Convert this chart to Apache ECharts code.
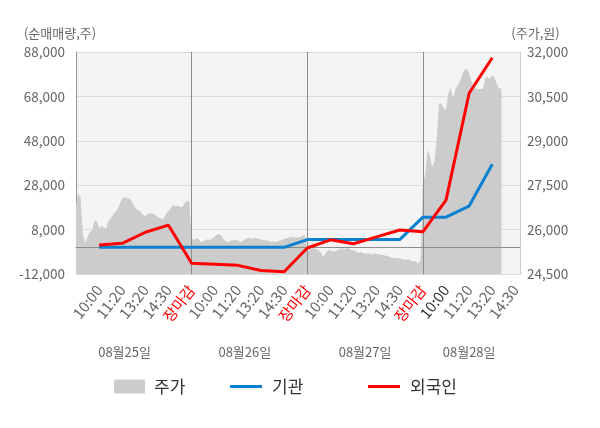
<!DOCTYPE html>
<html>
<head>
<meta charset="utf-8">
<script src="https://cdn.jsdelivr.net/npm/echarts@6/dist/echarts.min.js"></script>
<style>
    html, body { margin: 0; padding: 0; background: #fff; }
    #chart { width: 600px; height: 428px; }
</style>
</head>
<body>
<div id="chart"></div>
<script>
// x축 눈금 (10분 간격 슬롯 10개마다 하나)
var tickLabels = ['10:00', '11:20', '13:20', '14:30', '장마감',
    '10:00', '11:20', '13:20', '14:30', '장마감',
    '10:00', '11:20', '13:20', '14:30', '장마감',
    '10:00', '11:20', '13:20', '14:30'];
var dateLabels = ['08월25일', '08월26일', '08월27일', '08월28일'];

// 주가 (원) - 일중
var priceDay1 = [26830, 27230, 27070, 25820, 25540, 25760, 25930, 25990, 26320, 26270,
    26040, 26130, 26060, 26040, 26270, 26380, 26490, 26600, 26700, 26890,
    27060, 27090, 27060, 27060, 26970, 26810, 26700, 26660, 26600, 26490,
    26440, 26540, 26540, 26550, 26490, 26450, 26400, 26360, 26380, 26550,
    26630, 26720, 26830, 26790, 26810, 26760, 26760, 26890, 26970, 26970];
var priceDay2 = [25720, 25650, 25710, 25680, 25570, 25610, 25650, 25670, 25640, 25710,
    25760, 25840, 25840, 25780, 25650, 25580, 25590, 25630, 25640, 25650,
    25640, 25590, 25590, 25670, 25710, 25730, 25680, 25730, 25690, 25710,
    25660, 25650, 25630, 25640, 25590, 25610, 25580, 25590, 25630, 25650,
    25690, 25710, 25730, 25760, 25740, 25730, 25730, 25760, 25790, 25820];
var priceDay3 = [25200, 25340, 25370, 25370, 25340, 25310, 25200, 25080, 25200, 25290,
    25300, 25250, 25280, 25300, 25340, 25390, 25340, 25370, 25370, 25310,
    25300, 25280, 25210, 25250, 25220, 25180, 25190, 25190, 25150, 25190,
    25180, 25170, 25140, 25140, 25120, 25100, 25070, 25050, 25030, 25030,
    25030, 25010, 24980, 24980, 25000, 24950, 24930, 24920, 24840, 24970];
var priceDay4 = [27620, 27840, 28690, 28520, 28120, 28290, 29080, 30270, 30270, 30100,
    30040, 30600, 30790, 30440, 30720, 30880, 31000, 31250, 31400, 31430,
    31280, 31020, 30790, 30770, 30750, 30750, 30770, 31110, 31160, 31090,
    31220, 31130, 30910, 30770, 30770];

// 순매매량 (주) - 눈금 시점별 누적
var institution = [0, 0, 0, 0, 0, 0, 0, 0, 0, 3500, 3500, 3500, 3500, 3500, 13600, 13600, 18600, 37400];
var foreign = [1060, 1800, 6800, 10000, -7200, -7600, -8100, -10400, -11000, -300, 3400, 1600, 4700, 7800, 7000, 21300, 69400, 85400];

var SLOTS = 193;         // 슬롯 개수
var PER_TICK = 10;       // 눈금당 슬롯
var dayLabelAt = [21, 73, 125, 170];

var categories = [];
for (var i = 0; i < SLOTS; i++) categories.push(String(i));

var price = priceDay1.concat(priceDay2, priceDay3, priceDay4);

function spread(values) {
    var out = [];
    for (var i = 0; i < SLOTS; i++) out.push(null);
    values.forEach(function (v, k) { out[PER_TICK * (k + 1)] = v; });
    return out;
}

function tickOf(idx) {
    if (idx < PER_TICK || idx % PER_TICK !== 0) return null;
    return tickLabels[idx / PER_TICK - 1];
}

var closeLines = [];
tickLabels.forEach(function (t, k) {
    if (t === '장마감') closeLines.push({ xAxis: String(PER_TICK * (k + 1)) });
});

var myChart = echarts.init(document.getElementById('chart'));
var font = 'Noto Sans CJK KR';
var option = {
    animation: false,
    textStyle: { fontFamily: font },
    grid: {
        left: 76, right: 80, top: 52, bottom: 154,
        show: true, backgroundColor: '#f4f4f4', borderWidth: 0,
        outerBoundsMode: 'none'
    },
    legend: [
        {
            data: ['주가'], left: 109, top: 373, icon: 'rect',
            itemWidth: 31, itemHeight: 14,
            textStyle: { fontSize: 17, color: '#333', fontFamily: font, padding: [0, 0, 0, 4] }
        },
        {
            data: ['기관'], left: 225, top: 373, icon: 'rect',
            itemWidth: 32, itemHeight: 3,
            textStyle: { fontSize: 17, color: '#333', fontFamily: font, padding: [0, 0, 0, 5] }
        },
        {
            data: ['외국인'], left: 363, top: 373, icon: 'rect',
            itemWidth: 32, itemHeight: 3,
            textStyle: { fontSize: 17, color: '#333', fontFamily: font, padding: [0, 0, 0, 5] }
        }
    ],
    xAxis: [
        {
            type: 'category',
            data: categories,
            boundaryGap: false,
            axisLine: { show: true, lineStyle: { color: '#999' } },
            axisTick: { show: false },
            splitLine: { show: false },
            axisLabel: {
                interval: function (index) { return tickOf(index) !== null; },
                formatter: function (value) { return tickOf(+value); },
                color: function (value) {
                    var idx = +value;
                    if (tickOf(idx) === '장마감') return '#ff0000';
                    if (idx === 160) return '#333';
                    return '#666';
                },
                rotate: 52,
                margin: 13,
                fontSize: 15,
                fontFamily: font
            }
        },
        {
            type: 'category',
            data: categories,
            boundaryGap: false,
            position: 'bottom',
            axisLine: { show: false },
            axisTick: { show: false },
            splitLine: { show: false },
            axisLabel: {
                interval: function (index) { return dayLabelAt.indexOf(index) >= 0; },
                formatter: function (value) { return dateLabels[dayLabelAt.indexOf(+value)]; },
                color: '#666',
                margin: 72,
                fontSize: 13,
                fontFamily: font
            }
        }
    ],
    yAxis: [
        {
            type: 'value',
            min: -12000, max: 88000, interval: 20000,
            position: 'left',
            name: '(순매매량,주)',
            nameGap: 12,
            nameTextStyle: { color: '#666', fontSize: 13, fontFamily: font, padding: [0, 32, 0, 0] },
            axisLine: { show: true, lineStyle: { color: '#999' } },
            axisTick: { show: false },
            axisLabel: {
                color: '#666', fontSize: 13.5, margin: 11, fontFamily: font,
                formatter: function (v) { return v.toLocaleString('en-US'); }
            },
            splitLine: { lineStyle: { color: '#dcdcdc' } }
        },
        {
            type: 'value',
            min: 24500, max: 32000, interval: 1500,
            position: 'right',
            name: '(주가,원)',
            nameGap: 12,
            nameTextStyle: { color: '#666', fontSize: 13, fontFamily: font, padding: [0, 0, 0, 31] },
            axisLine: { show: true, lineStyle: { color: '#ccc' } },
            axisTick: { show: false },
            axisLabel: {
                color: '#666', fontSize: 13.5, margin: 7, fontFamily: font,
                formatter: function (v) { return v.toLocaleString('en-US'); }
            },
            splitLine: { show: false }
        }
    ],
    series: [
        {
            name: '주가',
            type: 'line',
            yAxisIndex: 1,
            data: price,
            showSymbol: false,
            z: 1,
            itemStyle: { color: '#cccccc' },
            lineStyle: { width: 0, color: '#cccccc' },
            areaStyle: { color: '#cccccc', opacity: 1, origin: 'start' },
            markLine: {
                silent: true, symbol: 'none', z: 2,
                label: { show: false },
                lineStyle: { color: '#8c8c8c', width: 1, type: 'solid' },
                data: closeLines
            }
        },
        {
            name: '기관',
            type: 'line',
            yAxisIndex: 0,
            data: spread(institution),
            connectNulls: true,
            showSymbol: false,
            z: 3,
            itemStyle: { color: '#0a80d0' },
            lineStyle: { width: 3, color: '#0a80d0' },
            markLine: {
                silent: true, symbol: 'none', z: 2,
                label: { show: false },
                lineStyle: { color: '#8c8c8c', width: 1, type: 'solid' },
                data: [{ yAxis: 0 }]
            }
        },
        {
            name: '외국인',
            type: 'line',
            yAxisIndex: 0,
            data: spread(foreign),
            connectNulls: true,
            showSymbol: false,
            z: 4,
            itemStyle: { color: '#ff0000' },
            lineStyle: { width: 3, color: '#ff0000' }
        }
    ]
};
myChart.setOption(option);
</script>
</body>
</html>
